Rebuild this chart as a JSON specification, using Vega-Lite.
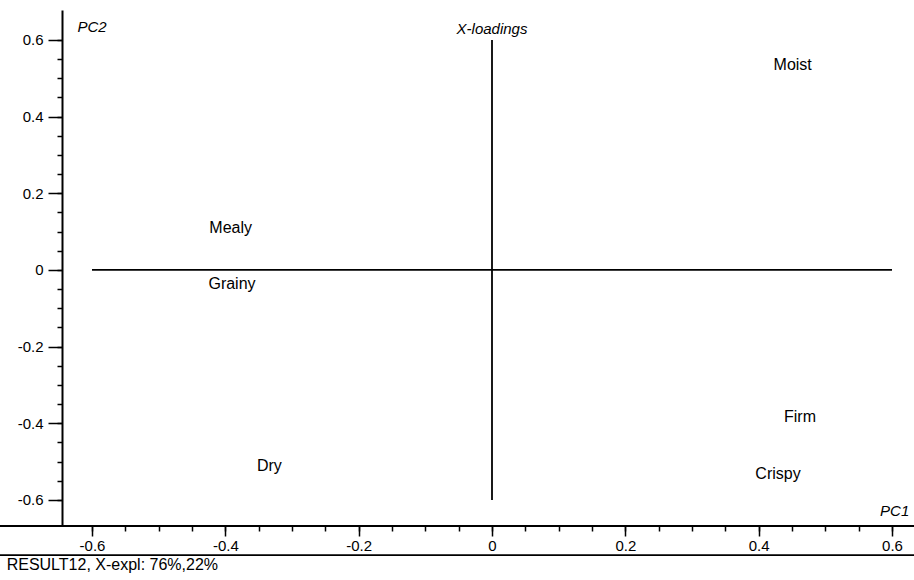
{
  "$schema": "https://vega.github.io/schema/vega-lite/v6.json",
  "width": 852,
  "height": 516,
  "autosize": {"type": "none"},
  "padding": {"left": 62, "top": 10, "right": 0, "bottom": 54},
  "config": {
    "view": {"stroke": null},
    "font": "Liberation Sans",
    "axis": {"grid": false, "title": null, "domainColor": "black", "tickColor": "black", "labelColor": "black", "labelFont": "Liberation Sans"}
  },
  "resolve": {"axis": {"x": "independent", "y": "independent"}},
  "layer": [
    {
      "data": {"values": [
        {"x1": -0.6, "x2": 0.6, "y1": 0, "y2": 0},
        {"x1": 0, "x2": 0, "y1": -0.6, "y2": 0.6},
        {"x1": -0.738, "x2": 0.633, "y1": -0.668, "y2": -0.668},
        {"x1": -0.738, "x2": 0.633, "y1": -0.744, "y2": -0.744}
      ]},
      "mark": {"type": "rule", "color": "black", "strokeWidth": 1.8},
      "encoding": {
        "x": {"field": "x1", "type": "quantitative", "scale": {"domain": [-0.645, 0.633], "nice": false, "zero": false},
              "axis": {"orient": "bottom", "values": [-0.6,-0.55,-0.5,-0.45,-0.4,-0.35,-0.3,-0.25,-0.2,-0.15,-0.1,-0.05,0,0.05,0.1,0.15,0.2,0.25,0.3,0.35,0.4,0.45,0.5,0.55,0.6], "labels": false, "domain": false, "tickSize": 5, "tickWidth": 1.5}},
        "x2": {"field": "x2"},
        "y": {"field": "y1", "type": "quantitative", "scale": {"domain": [-0.668, 0.678], "nice": false, "zero": false},
              "axis": {"orient": "left", "values": [-0.6,-0.55,-0.5,-0.45,-0.4,-0.35,-0.3,-0.25,-0.2,-0.15,-0.1,-0.05,0,0.05,0.1,0.15,0.2,0.25,0.3,0.35,0.4,0.45,0.5,0.55,0.6], "labels": false, "domain": false, "tickSize": 5, "tickWidth": 1.5}},
        "y2": {"field": "y2"}
      }
    },
    {
      "data": {"values": [
        {"attribute": "Moist", "pc1": 0.451, "pc2": 0.535},
        {"attribute": "Mealy", "pc1": -0.392, "pc2": 0.110},
        {"attribute": "Grainy", "pc1": -0.390, "pc2": -0.037},
        {"attribute": "Dry", "pc1": -0.334, "pc2": -0.511},
        {"attribute": "Firm", "pc1": 0.462, "pc2": -0.384},
        {"attribute": "Crispy", "pc1": 0.429, "pc2": -0.532}
      ]},
      "mark": {"type": "text", "fontSize": 16, "color": "black", "align": "center", "baseline": "middle"},
      "encoding": {
        "x": {"field": "pc1", "type": "quantitative", "scale": {"domain": [-0.645, 0.633], "nice": false, "zero": false},
              "axis": {"orient": "bottom", "values": [-0.6,-0.4,-0.2,0,0.2,0.4,0.6], "labelExpr": "'' + datum.value", "domain": false, "tickSize": 10, "tickWidth": 1.5, "labelFontSize": 15, "labelPadding": 2}},
        "y": {"field": "pc2", "type": "quantitative", "scale": {"domain": [-0.668, 0.678], "nice": false, "zero": false},
              "axis": {"orient": "left", "values": [-0.6,-0.4,-0.2,0,0.2,0.4,0.6], "labelExpr": "'' + datum.value", "domain": true, "domainWidth": 2, "tickSize": 14, "tickWidth": 1.5, "labelFontSize": 15, "labelPadding": 5}},
        "text": {"field": "attribute"}
      }
    },
    {
      "data": {"values": [
        {"label": "PC2", "px": -0.6, "py": 0.634},
        {"label": "X-loadings", "px": 0, "py": 0.629},
        {"label": "PC1", "px": 0.604, "py": -0.629}
      ]},
      "mark": {"type": "text", "fontSize": 15, "fontStyle": "italic", "color": "black", "align": "center", "baseline": "middle"},
      "encoding": {
        "x": {"field": "px", "type": "quantitative", "scale": {"domain": [-0.645, 0.633], "nice": false, "zero": false}, "axis": null},
        "y": {"field": "py", "type": "quantitative", "scale": {"domain": [-0.668, 0.678], "nice": false, "zero": false}, "axis": null},
        "text": {"field": "label"}
      }
    },
    {
      "data": {"values": [
        {"label": "RESULT12, X-expl: 76%,22%", "px": -0.728, "py": -0.770}
      ]},
      "mark": {"type": "text", "fontSize": 16, "color": "black", "align": "left", "baseline": "middle"},
      "encoding": {
        "x": {"field": "px", "type": "quantitative", "scale": {"domain": [-0.645, 0.633], "nice": false, "zero": false}, "axis": null},
        "y": {"field": "py", "type": "quantitative", "scale": {"domain": [-0.668, 0.678], "nice": false, "zero": false}, "axis": null},
        "text": {"field": "label"}
      }
    }
  ]
}
